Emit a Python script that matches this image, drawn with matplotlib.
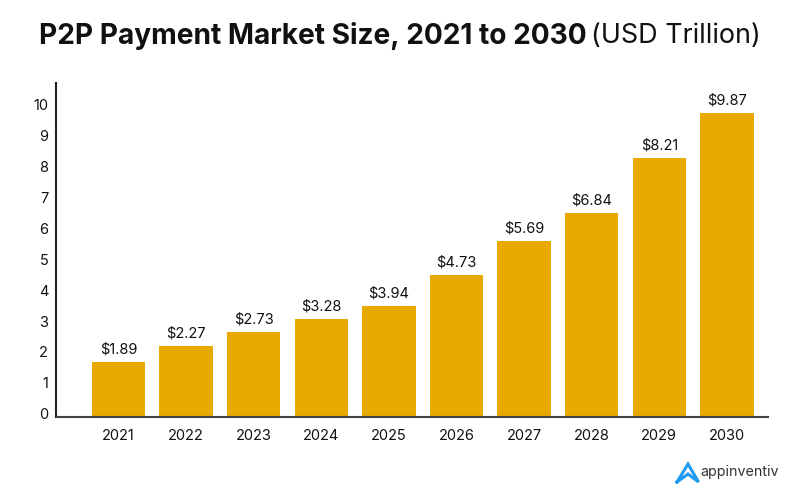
import matplotlib
matplotlib.use("Agg")
import matplotlib.pyplot as plt
from matplotlib.lines import Line2D
from matplotlib.transforms import ScaledTranslation

years = ["2021", "2022", "2023", "2024", "2025", "2026", "2027", "2028", "2029", "2030"]
# bar heights as drawn, they sit a little off the printed labels in the original
bar_heights = [1.75, 2.27, 2.73, 3.14, 3.57, 4.57, 5.67, 6.6, 8.35, 9.83]
bar_labels = ["$1.89", "$2.27", "$2.73", "$3.28", "$3.94", "$4.73", "$5.69", "$6.84", "$8.21", "$9.87"]
y_ticks = [0, 1, 2, 3, 4, 5, 6, 7, 8, 9, 10]

W, H = 800, 500
plt.rcParams["font.family"] = ["Inter", "DejaVu Sans"]

fig = plt.figure(figsize=(8, 5), dpi=100)
ax = fig.add_axes([56.5 / W, 1 - 416.5 / H, (768 - 56.5) / W, (416.5 - 83) / H])

x = range(len(years))
bars = ax.bar(x, bar_heights, width=0.79, color="#E8A900")
for rect, label in zip(bars, bar_labels):
    ax.annotate(label.replace("$", r"\$"), (rect.get_x() + rect.get_width() / 2, rect.get_height()),
                xytext=(0, 4), textcoords="offset points", ha="center", va="bottom",
                fontsize=10.5, color="#111111")

ax.set_xlim(-0.917, 9.608)
ax.set_ylim(0, 333.5 / 30.9)
ax.set_xticks(list(x))
ax.set_xticklabels(years, fontsize=10.5, color="#111111")
ax.set_yticks(y_ticks)
ax.set_yticklabels(y_ticks, fontsize=10.5, color="#111111")
ax.tick_params(axis="both", length=0)
ax.tick_params(axis="x", pad=9)
ax.tick_params(axis="y", pad=6)

# y labels sit slightly above their gridline position in the original
shift = ScaledTranslation(0, 2 / 72, fig.dpi_scale_trans)
for lab in ax.get_yticklabels():
    lab.set_transform(lab.get_transform() + shift)

for side in ["top", "right"]:
    ax.spines[side].set_visible(False)
ax.spines["left"].set_linewidth(1.5)
ax.spines["left"].set_color("#222222")
ax.spines["bottom"].set_linewidth(1.5)
ax.spines["bottom"].set_color("#444444")

# title is two runs, bold then regular
fig.text(39 / W, 1 - 36 / H, "P2P Payment Market Size, 2021 to 2030", fontsize=20.2,
         fontweight="bold", color="#111111", va="center", ha="left")
fig.text(761 / W, 1 - 36 / H, "(USD Trillion)", fontsize=19.4, color="#111111", va="center", ha="right")

# logo
logo_x = [677 / W, 688 / W, 698.5 / W, 688 / W, 677 / W]
logo_y = [1 - 482 / H, 1 - 464 / H, 1 - 482 / H, 1 - 474 / H, 1 - 482 / H]
fig.add_artist(Line2D(logo_x, logo_y, color="#1E9BF0", linewidth=2.2, solid_joinstyle="miter"))
fig.text(700 / W, 1 - 472 / H, "appinventiv", fontsize=10.3, color="#333333", va="center", ha="left")

fig.savefig("out.png", dpi=100)
